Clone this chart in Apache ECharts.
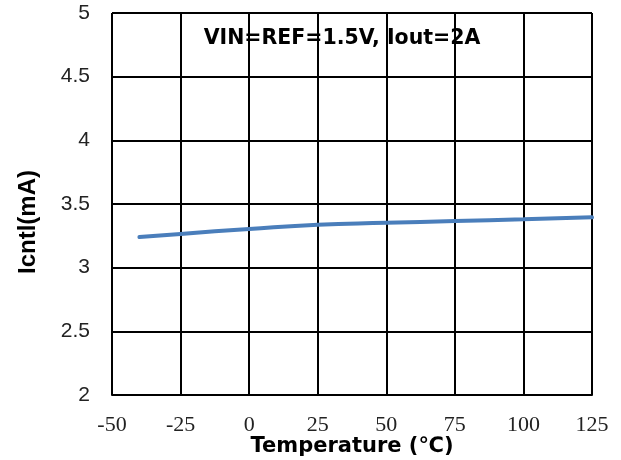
<!DOCTYPE html>
<html>
<head>
<meta charset="utf-8">
<script src="https://cdn.jsdelivr.net/npm/echarts@6/dist/echarts.min.js"></script>
<style>html,body{margin:0;padding:0;background:#fff}#c{width:621px;height:460px}</style>
</head>
<body>
<div id="c"></div>
<script>
const temperatures = [-40, -25, 0, 25, 50, 75, 100, 125];
const icntl = [3.24, 3.265, 3.304, 3.338, 3.352, 3.366, 3.38, 3.395];
const xTicks = [-50, -25, 0, 25, 50, 75, 100, 125];
const yTicks = [2, 2.5, 3, 3.5, 4, 4.5, 5];
const chartTitle = 'VIN=REF=1.5V, Iout=2A';
const xName = 'Temperature (\u2103)';
const yName = 'Icntl(mA)';

const chart = echarts.init(document.getElementById('c'), null, {renderer: 'canvas'});
chart.setOption({
  animation: false,
  title: {
    text: chartTitle,
    left: 337, top: 23, textAlign: 'center',
    textStyle: {fontFamily: 'DejaVu Sans', fontWeight: 'bold', fontSize: 20.5, color: '#000'}
  },
  grid: {left: 112, right: 29, top: 13, bottom: 65, containLabel: false, outerBoundsMode: 'none'},
  xAxis: {
    type: 'value', min: xTicks[0], max: xTicks[xTicks.length - 1], interval: 25,
    name: xName, nameLocation: 'middle', nameGap: 41, nameMoveOverlap: false,
    nameTextStyle: {fontFamily: 'DejaVu Sans', fontWeight: 'bold', fontSize: 21, color: '#000'},
    axisLine: {show: true, lineStyle: {color: '#000', width: 2}},
    axisTick: {show: false},
    axisLabel: {fontFamily: 'Liberation Serif', fontSize: 22, color: '#222', margin: 19},
    splitLine: {show: true, lineStyle: {color: '#000', width: 2}}
  },
  yAxis: {
    type: 'value', min: yTicks[0], max: yTicks[yTicks.length - 1], interval: 0.5,
    name: yName, nameLocation: 'middle', nameGap: 72, nameRotate: 90, nameMoveOverlap: false,
    nameTextStyle: {fontFamily: 'Liberation Sans', fontWeight: 'bold', fontSize: 24, color: '#000', padding: [0, 36, 0, 0]},
    axisLine: {show: true, lineStyle: {color: '#000', width: 2}},
    axisTick: {show: false},
    axisLabel: {fontFamily: 'Liberation Sans', fontSize: 21, color: '#222', margin: 22},
    splitLine: {show: true, lineStyle: {color: '#000', width: 2}}
  },
  series: [{
    type: 'line',
    data: temperatures.map((t, i) => [t, icntl[i]]),
    smooth: true,
    showSymbol: false,
    lineStyle: {color: '#4a7ebb', width: 4, cap: 'round'}
  }]
});
</script>
</body>
</html>
